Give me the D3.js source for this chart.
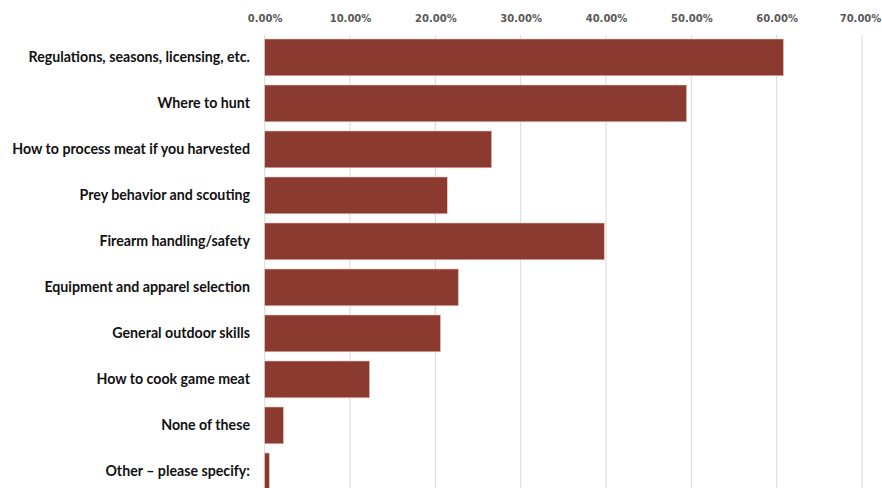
<!DOCTYPE html>
<html>
<head>
<meta charset="utf-8">
<script src="https://cdn.jsdelivr.net/npm/d3@7"></script>
<style>
  html, body { margin: 0; padding: 0; background: #fff; }
  svg { display: block; }
</style>
</head>
<body>
<div id="chart"></div>
<script>
// Topics respondents wanted to learn about (share of respondents, %)
const categories = [
  "Regulations, seasons, licensing, etc.",
  "Where to hunt",
  "How to process meat if you harvested",
  "Prey behavior and scouting",
  "Firearm handling/safety",
  "Equipment and apparel selection",
  "General outdoor skills",
  "How to cook game meat",
  "None of these",
  "Other – please specify:"
];
const values = [60.8, 49.45, 26.6, 21.4, 39.8, 22.7, 20.6, 12.3, 2.2, 0.55];
const tickValues = [0, 10, 20, 30, 40, 50, 60, 70];

const width = 882, height = 488;
const left = 264.7, right = 862;

const svg = d3.select("#chart").append("svg")
  .attr("width", width).attr("height", height);

const x = d3.scaleLinear().domain([0, 70]).range([left, right]);
const y = d3.scaleBand().domain(categories)
  .range([34.4, 34.4 + categories.length * 46])
  .paddingInner(0.2).paddingOuter(0.1);

// vertical gridlines
svg.append("g").selectAll("line")
  .data(tickValues).join("line")
  .attr("x1", d => x(d)).attr("x2", d => x(d))
  .attr("y1", 35).attr("y2", height)
  .attr("stroke", "#d9d9d9").attr("stroke-width", 1);

// top axis labels
const axis = d3.axisTop(x).tickValues(tickValues)
  .tickFormat(d => d.toFixed(2) + "%").tickSize(0).tickPadding(0);
const gAxis = svg.append("g").attr("transform", "translate(0,21.5)").call(axis);
gAxis.select(".domain").remove();
gAxis.selectAll("text")
  .attr("font-family", "DejaVu Sans, sans-serif")
  .attr("font-weight", "bold")
  .attr("font-size", "10px")
  .attr("fill", "#595959");
// nudge the last tick label so it stays inside the frame
gAxis.selectAll(".tick:last-of-type text").attr("dx", "-2px");

// bars
svg.append("g").selectAll("rect")
  .data(values).join("rect")
  .attr("x", x(0))
  .attr("y", (d, i) => y(categories[i]))
  .attr("width", d => x(d) - x(0))
  .attr("height", y.bandwidth())
  .attr("fill", "#8b3a30")
  .attr("stroke", "#e8c9c4").attr("stroke-width", 0.6);

// category labels
svg.append("g").selectAll("text")
  .data(categories).join("text")
  .attr("x", 250)
  .attr("y", d => y(d) + y.bandwidth() / 2)
  .attr("dy", "0.35em")
  .attr("text-anchor", "end")
  .attr("font-family", "Lato, sans-serif")
  .attr("font-weight", "bold")
  .attr("font-size", "14.2px")
  .attr("fill", "#111")
  .text(d => d);
</script>
</body>
</html>
